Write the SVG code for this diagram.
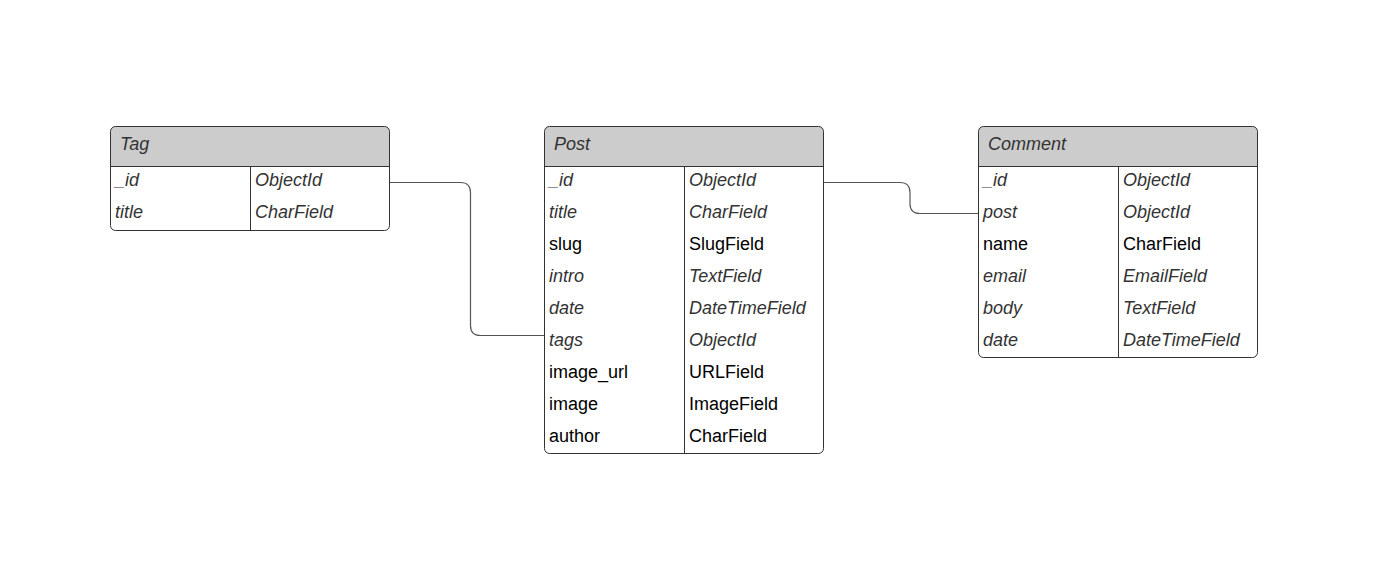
<svg xmlns="http://www.w3.org/2000/svg" width="1389" height="579" viewBox="0 0 1389 579">
  <style>
    .frame { fill: none; stroke: #333333; stroke-width: 1; }
    .head { fill: #cccccc; }
    .rule { stroke: #333333; stroke-width: 1; }
    .link { fill: none; stroke: #555555; stroke-width: 1.2; }
    text { font-family: "Liberation Sans", Arial, sans-serif; font-size: 18px; }
    .title { font-style: italic; fill: #333333; }
    .it { font-style: italic; fill: #333333; }
    .pl { fill: #000000; }
  </style>
  <rect width="1389" height="579" fill="#ffffff"/>

  <g id="connectors">
    <!-- Tag._id to Post.tags -->
    <path class="link" d="M390,182.5 H460.5 Q470.5,182.5 470.5,192.5 V325.5 Q470.5,335.5 480.5,335.5 H544"/>
    <!-- Post._id to Comment.post -->
    <path class="link" d="M824,182.5 H900 Q910,182.5 910,192.5 V203.5 Q910,213.5 920,213.5 H978"/>
  </g>

  <g id="tag">
    <path class="head" d="M110.5,166.5 V131.5 Q110.5,126.5 115.5,126.5 H384.5 Q389.5,126.5 389.5,131.5 V166.5 Z"/>
    <rect class="frame" x="110.5" y="126.5" width="279" height="104" rx="5" ry="5"/>
    <line class="rule" x1="110.5" y1="166.5" x2="389.5" y2="166.5"/>
    <line class="rule" x1="250.5" y1="166.5" x2="250.5" y2="230.5"/>
    <text class="title" x="120" y="150">Tag</text>
    <text class="it" x="115" y="186">_id</text>
    <text class="it" x="255" y="186">ObjectId</text>
    <text class="it" x="115" y="218">title</text>
    <text class="it" x="255" y="218">CharField</text>
  </g>

  <g id="post">
    <path class="head" d="M544.5,166.5 V131.5 Q544.5,126.5 549.5,126.5 H818.5 Q823.5,126.5 823.5,131.5 V166.5 Z"/>
    <rect class="frame" x="544.5" y="126.5" width="279" height="327" rx="5" ry="5"/>
    <line class="rule" x1="544.5" y1="166.5" x2="823.5" y2="166.5"/>
    <line class="rule" x1="684.5" y1="166.5" x2="684.5" y2="453.5"/>
    <text class="title" x="554" y="150">Post</text>
    <text class="it" x="549" y="186">_id</text>
    <text class="it" x="689" y="186">ObjectId</text>
    <text class="it" x="549" y="218">title</text>
    <text class="it" x="689" y="218">CharField</text>
    <text class="pl" x="549" y="250">slug</text>
    <text class="pl" x="689" y="250">SlugField</text>
    <text class="it" x="549" y="282">intro</text>
    <text class="it" x="689" y="282">TextField</text>
    <text class="it" x="549" y="314">date</text>
    <text class="it" x="689" y="314">DateTimeField</text>
    <text class="it" x="549" y="346">tags</text>
    <text class="it" x="689" y="346">ObjectId</text>
    <text class="pl" x="549" y="378">image_url</text>
    <text class="pl" x="689" y="378">URLField</text>
    <text class="pl" x="549" y="410">image</text>
    <text class="pl" x="689" y="410">ImageField</text>
    <text class="pl" x="549" y="442">author</text>
    <text class="pl" x="689" y="442">CharField</text>
  </g>

  <g id="comment">
    <path class="head" d="M978.5,166.5 V131.5 Q978.5,126.5 983.5,126.5 H1252.5 Q1257.5,126.5 1257.5,131.5 V166.5 Z"/>
    <rect class="frame" x="978.5" y="126.5" width="279" height="231" rx="5" ry="5"/>
    <line class="rule" x1="978.5" y1="166.5" x2="1257.5" y2="166.5"/>
    <line class="rule" x1="1118.5" y1="166.5" x2="1118.5" y2="357.5"/>
    <text class="title" x="988" y="150">Comment</text>
    <text class="it" x="983" y="186">_id</text>
    <text class="it" x="1123" y="186">ObjectId</text>
    <text class="it" x="983" y="218">post</text>
    <text class="it" x="1123" y="218">ObjectId</text>
    <text class="pl" x="983" y="250">name</text>
    <text class="pl" x="1123" y="250">CharField</text>
    <text class="it" x="983" y="282">email</text>
    <text class="it" x="1123" y="282">EmailField</text>
    <text class="it" x="983" y="314">body</text>
    <text class="it" x="1123" y="314">TextField</text>
    <text class="it" x="983" y="346">date</text>
    <text class="it" x="1123" y="346">DateTimeField</text>
  </g>
</svg>
